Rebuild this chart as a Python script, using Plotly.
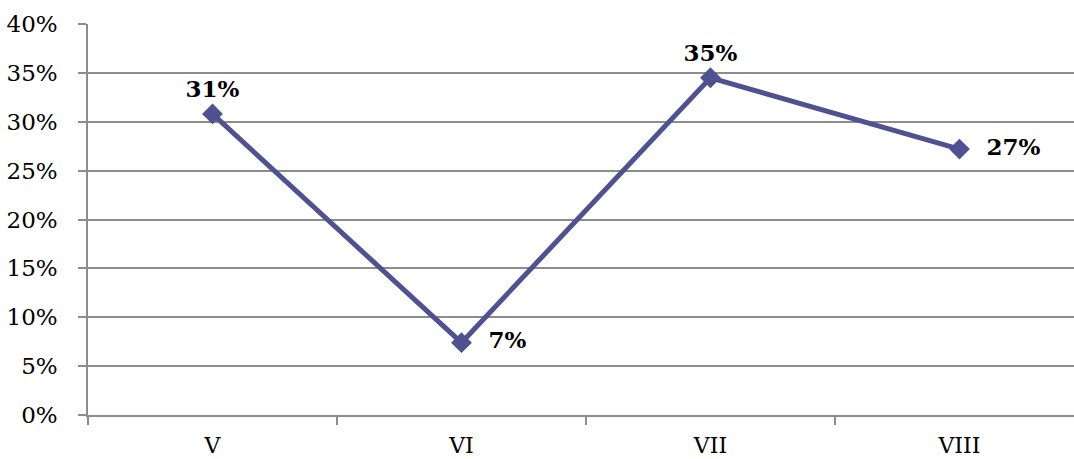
import plotly.graph_objects as go

categories = ["V", "VI", "VII", "VIII"]
values = [0.308, 0.074, 0.345, 0.272]
label_positions = ["top center", "middle right", "top center", "middle right"]
label_templates = ["%{y:.0%}", "  %{y:.0%}", "%{y:.0%}", "  %{y:.0%}"]
y_ticks = [0, 0.05, 0.10, 0.15, 0.20, 0.25, 0.30, 0.35, 0.40]

line_color = "#4f5190"
grid_color = "#8c8c8c"
font_family = "DejaVu Serif"

fig = go.Figure()
fig.add_trace(go.Scatter(
    x=categories,
    y=values,
    mode="lines+markers+text",
    line=dict(color=line_color, width=5),
    marker=dict(symbol="diamond", size=16, color=line_color),
    texttemplate=label_templates,
    textposition=label_positions,
    textfont=dict(family=font_family, size=23, color="black", weight="bold"),
    cliponaxis=False,
    hoverinfo="skip",
))

fig.update_layout(
    width=1074,
    height=459,
    margin=dict(l=88, r=0, t=24, b=44, pad=0),
    paper_bgcolor="white",
    plot_bgcolor="white",
    showlegend=False,
    font=dict(family=font_family, size=23, color="black"),
)

fig.update_xaxes(
    type="category",
    range=[-0.5, 3.46],
    automargin=False,
    showgrid=False,
    showline=True,
    linecolor=grid_color,
    linewidth=1.5,
    ticks="outside",
    tickson="boundaries",
    ticklen=8,
    tickcolor=grid_color,
    tickwidth=1.5,
    ticklabelstandoff=10,
    tickfont=dict(family=font_family, size=22, color="black"),
    zeroline=False,
)

fig.update_yaxes(
    range=[0, 0.40],
    automargin=False,
    tickvals=y_ticks,
    tickformat=".0%",
    showgrid=True,
    gridcolor=grid_color,
    gridwidth=1.5,
    showline=True,
    linecolor=grid_color,
    linewidth=1.5,
    ticks="outside",
    ticklen=8,
    tickcolor=grid_color,
    tickwidth=1.5,
    ticklabelstandoff=16,
    tickfont=dict(family=font_family, size=23, color="black"),
    zeroline=False,
)

fig.write_html(
    "out.html",
    config={"displayModeBar": False},
    post_script="document.body.style.margin='0';document.body.style.overflow='hidden';",
)
